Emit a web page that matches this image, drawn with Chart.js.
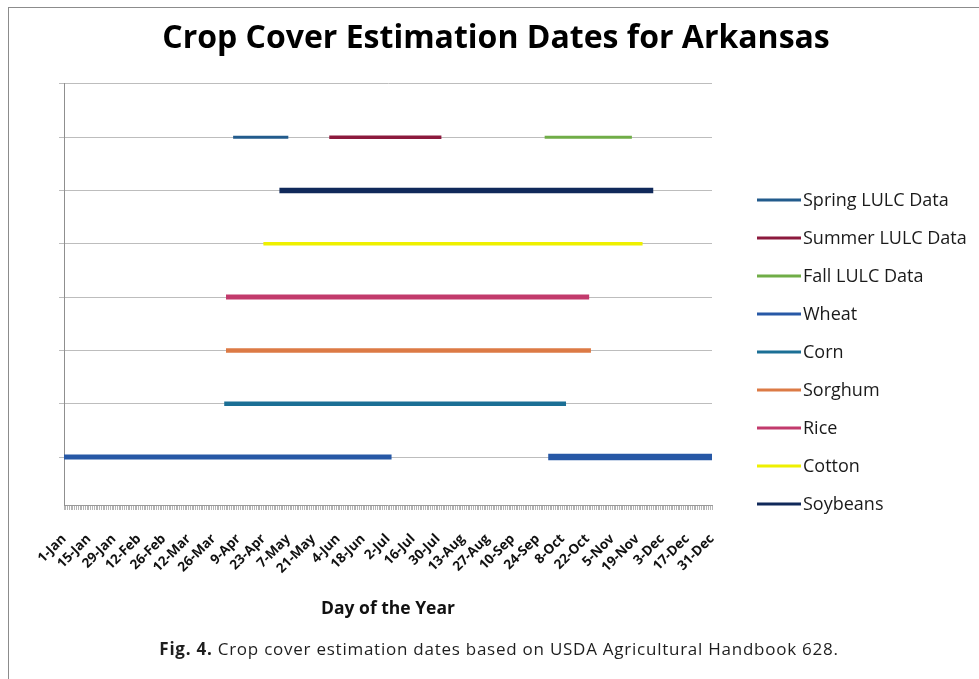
<!DOCTYPE html>
<html>
<head>
<meta charset="utf-8">
<title>Crop Cover Estimation Dates for Arkansas</title>
<script src="https://cdn.jsdelivr.net/npm/chart.js@4"></script>
<style>
  html, body { margin: 0; padding: 0; background: #fff; }
  #wrap { position: relative; width: 979px; height: 679px; overflow: hidden; background: #fff; }
  #frame { position: absolute; left: 8px; top: 7px; width: 1000px; height: 700px;
           border-left: 1px solid #8c8c8c; border-top: 1px solid #8c8c8c; }
  #chart { position: absolute; left: 0; top: 0; }
  #caption { position: absolute; left: 0; width: 998px; top: 637px; text-align: center;
             font-family: "Open Sans", sans-serif; font-size: 17px; letter-spacing: 0.75px; color: #1e1e1e; }
  #caption b { font-weight: 700; }
</style>
</head>
<body>
<div id="wrap">
  <div id="frame"></div>
  <canvas id="chart" width="979" height="679"></canvas>
  <div id="caption"><b>Fig. 4.</b> Crop cover estimation dates based on USDA Agricultural Handbook 628.</div>
</div>
<script>
// Day-of-year positions of the labelled ticks and their text
const tickDays = [1, 15, 29, 43, 57, 71, 85, 99, 113, 127, 141, 155, 169, 183,
                  197, 211, 225, 239, 253, 267, 281, 295, 309, 323, 337, 351, 365];
const tickLabels = ['1-Jan', '15-Jan', '29-Jan', '12-Feb', '26-Feb', '12-Mar', '26-Mar',
                    '9-Apr', '23-Apr', '7-May', '21-May', '4-Jun', '18-Jun', '2-Jul',
                    '16-Jul', '30-Jul', '13-Aug', '27-Aug', '10-Sep', '24-Sep', '8-Oct',
                    '22-Oct', '5-Nov', '19-Nov', '3-Dec', '17-Dec', '31-Dec'];

// Series names and the row (level) each one sits on
const seriesNames = ['Spring LULC Data', 'Summer LULC Data', 'Fall LULC Data', 'Wheat',
                     'Corn', 'Sorghum', 'Rice', 'Cotton', 'Soybeans'];
const seriesRows = [7, 7, 7, 1, 2, 3, 4, 5, 6];

// Estimation periods as [start day, end day] of the year
const springLULC = [[96, 127]];
const summerLULC = [[150, 213]];
const fallLULC   = [[271, 320]];
const wheat      = [[1, 185], [273, 365]];
const corn       = [[91, 283]];
const sorghum    = [[92, 297]];
const rice       = [[92, 296]];
const cotton     = [[113, 326]];
const soybeans   = [[122, 332]];
const seriesPeriods = [springLULC, summerLULC, fallLULC, wheat, corn, sorghum, rice, cotton, soybeans];

// Line styling per series
const seriesColors = ['#225b8c', '#8c1a3d', '#70ad47', '#2758a6', '#1b6f95',
                      '#dc7a45', '#c23a6c', '#eef000', '#10295a'];
const seriesWidths = [3, 3.5, 3, 5, 4.5, 4.5, 5, 3.5, 5.5];

// Turn a list of periods into x/y points, with a null between periods to break the line
function periodPoints(periods, row) {
  const pts = [];
  periods.forEach((p, i) => {
    if (i > 0) pts.push({ x: (periods[i - 1][1] + p[0]) / 2, y: null });
    pts.push({ x: p[0], y: row }, { x: p[1], y: row });
  });
  return pts;
}

const datasets = seriesNames.map((name, i) => {
  const ds = {
    label: name,
    data: periodPoints(seriesPeriods[i], seriesRows[i]),
    borderColor: seriesColors[i],
    backgroundColor: seriesColors[i],
    borderWidth: seriesWidths[i],
    pointRadius: 0,
    spanGaps: false,
    fill: false
  };
  if (name === 'Wheat') {
    // the autumn-sown wheat period is drawn a little heavier
    ds.segment = { borderWidth: ctx => (ctx.p0DataIndex >= 2 ? 6.5 : 5) };
  }
  return ds;
});

// Legend drawn down the right-hand side from the dataset list
const sideLegend = {
  id: 'sideLegend',
  afterDraw(chart) {
    const ctx = chart.ctx;
    const x0 = chart.chartArea.right + 45;
    ctx.save();
    ctx.textBaseline = 'middle';
    ctx.textAlign = 'left';
    ctx.font = '18px "Open Sans"';
    chart.data.datasets.forEach((ds, i) => {
      const y = 200 + i * 38;
      ctx.strokeStyle = ds.borderColor;
      ctx.lineWidth = 3;
      ctx.beginPath();
      ctx.moveTo(x0, y);
      ctx.lineTo(x0 + 44, y);
      ctx.stroke();
      ctx.fillStyle = '#1a1a1a';
      ctx.fillText(ds.label, x0 + 46, y + 1);
    });
    ctx.restore();
  }
};

const allDays = [];
for (let d = 1; d <= 365; d++) allDays.push(d);

const chart = new Chart(document.getElementById('chart'), {
  type: 'line',
  data: { datasets },
  plugins: [sideLegend],
  options: {
    responsive: false,
    animation: false,
    events: [],
    layout: { padding: { left: 13, right: 0, top: 0, bottom: 59 } },
    plugins: {
      legend: { display: false },
      tooltip: { enabled: false },
      title: {
        display: true,
        text: 'Crop Cover Estimation Dates for Arkansas',
        color: '#000',
        font: { family: 'Open Sans', size: 32, weight: 'bold' },
        padding: { top: 19.5, bottom: 26 }
      }
    },
    scales: {
      x: {
        type: 'linear',
        min: 1,
        max: 365,
        afterBuildTicks: scale => { scale.ticks = allDays.map(v => ({ value: v })); },
        afterFit: scale => { scale.height = 115; },
        ticks: {
          autoSkip: false,
          minRotation: 45,
          maxRotation: 45,
          padding: 21,
          color: '#111',
          font: { family: 'Open Sans', size: 13.5, weight: 'bold' },
          callback: value => {
            const i = tickDays.indexOf(value);
            return i >= 0 ? tickLabels[i] : '';
          }
        },
        grid: { drawOnChartArea: false, drawTicks: true, tickLength: 5, color: '#b5b5b5' },
        border: { color: '#9a9a9a' },
        title: {
          display: true,
          text: 'Day of the Year',
          color: '#111',
          font: { family: 'Open Sans', size: 17.5, weight: 'bold' },
          padding: { top: 0, bottom: 0 }
        }
      },
      y: {
        type: 'linear',
        min: 0.1,
        max: 8,
        afterBuildTicks: scale => {
          scale.ticks = [1, 2, 3, 4, 5, 6, 7, 8].map(v => ({ value: v }));
        },
        afterFit: scale => { scale.width = 51; },
        ticks: { display: false },
        grid: { color: '#bdbdbd', lineWidth: 1, tickLength: 5 },
        border: { color: '#8f8f8f' }
      },
      // empty right-hand axis that keeps room for the legend column
      legendSpace: {
        type: 'linear',
        position: 'right',
        display: true,
        afterFit: scale => { scale.width = 267; },
        ticks: { display: false },
        grid: { display: false },
        border: { display: false }
      }
    }
  }
});

if (document.fonts && document.fonts.ready) {
  document.fonts.ready.then(() => chart.update());
}
</script>
</body>
</html>
